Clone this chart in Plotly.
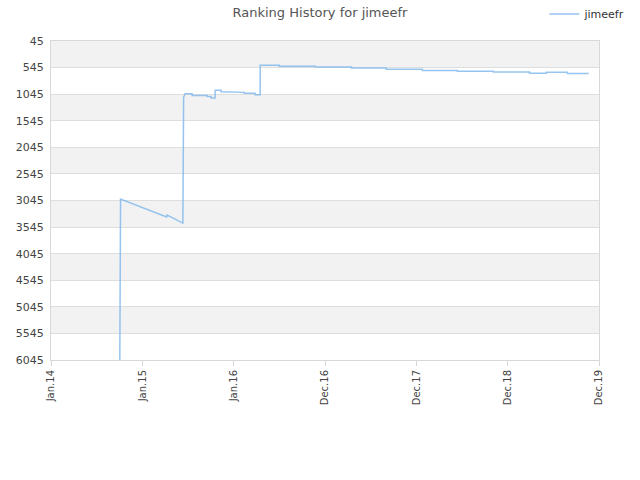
import plotly.graph_objects as go

dates = ["2014-10-03", "2014-10-03", "2014-10-05", "2014-10-06", "2015-04-08", "2015-04-10", "2015-06-12",
         "2015-06-13", "2015-06-15", "2015-06-21",
         "2015-07-19", "2015-07-19", "2015-09-17", "2015-09-17", "2015-10-03", "2015-10-03",
         "2015-10-19", "2015-10-19", "2015-11-12", "2015-11-12", "2015-12-26", "2015-12-26",
         "2016-02-12", "2016-02-12", "2016-03-27", "2016-03-27", "2016-04-16", "2016-04-16",
         "2016-07-01", "2016-07-01", "2016-11-22", "2016-11-22", "2017-04-16", "2017-04-16",
         "2017-09-02", "2017-09-02", "2018-01-24", "2018-01-24", "2018-06-13", "2018-06-13",
         "2018-11-04", "2018-11-04", "2019-03-28", "2019-03-28", "2019-06-04", "2019-06-04",
         "2019-08-27", "2019-08-27", "2019-11-20"]
ranks = [6045, 3300, 3050, 3017, 3356, 3318, 3470,
         1400, 1100, 1036,
         1036, 1068, 1068, 1087, 1087, 1117,
         1117, 973, 973, 998, 998, 1011,
         1011, 1030, 1030, 1055, 1055, 502,
         502, 520, 520, 536, 536, 555,
         555, 577, 577, 598, 598, 615,
         615, 630, 630, 652, 652, 634,
         634, 658, 658]

tick_dates = ["2014-01-01", "2015-01-01", "2016-01-01", "2016-12-31", "2017-12-31", "2018-12-31", "2019-12-31"]
tick_text = ["Jan.14", "Jan.15", "Jan.16", "Dec.16", "Dec.17", "Dec.18", "Dec.19"]
y_ticks = [45, 545, 1045, 1545, 2045, 2545, 3045, 3545, 4045, 4545, 5045, 5545, 6045]

fig = go.Figure()
fig.add_trace(go.Scatter(x=dates, y=ranks, mode="lines", name="jimeefr",
                         line=dict(color="rgba(124,181,236,0.8)", width=1.5)))

shapes = []
for i in range(0, len(y_ticks) - 1, 2):
    shapes.append(dict(type="rect", xref="paper", yref="y", x0=0, x1=1,
                       y0=y_ticks[i], y1=y_ticks[i + 1], fillcolor="#f2f2f2",
                       line=dict(width=0), layer="below"))

fig.update_layout(
    width=640, height=480,
    paper_bgcolor="white", plot_bgcolor="white",
    margin=dict(l=51, r=41, t=41, b=120, autoexpand=False),
    title=dict(text="Ranking History for jimeefr", x=0.5, xanchor="center",
               yref="container", y=0.975, yanchor="middle",
               font=dict(family="DejaVu Sans", size=13, color="#555")),
    showlegend=True,
    legend=dict(xref="container", yref="container", x=0.985, xanchor="right", y=0.971, yanchor="middle",
                bgcolor="rgba(0,0,0,0)", itemwidth=30,
                font=dict(family="DejaVu Sans", size=11, color="#333")),
    shapes=shapes,
    font=dict(family="DejaVu Sans", size=11, color="#444"),
)
fig.update_xaxes(type="date", range=["2014-01-01", "2019-12-31"], tickvals=tick_dates, ticktext=tick_text,
                 tickangle=-90, showgrid=False, showline=True, linecolor="#d8d8d8", mirror=True,
                 ticks="outside", ticklen=5, tickcolor="#d8d8d8", automargin=False,
                 tickfont=dict(family="DejaVu Sans", size=10, color="#444"), zeroline=False)
fig.update_yaxes(range=[6045, 45], tickvals=y_ticks, ticktext=[str(v) for v in y_ticks],
                 showgrid=True, gridcolor="#dedede", gridwidth=1, showline=True, linecolor="#d8d8d8",
                 mirror=True, zeroline=False, ticks="", ticklabelstandoff=4, automargin=False,
                 tickfont=dict(family="DejaVu Sans", size=11, color="#444"))

fig.write_html("out.html", config={"displayModeBar": False},
               post_script="document.body.style.margin='0';")
